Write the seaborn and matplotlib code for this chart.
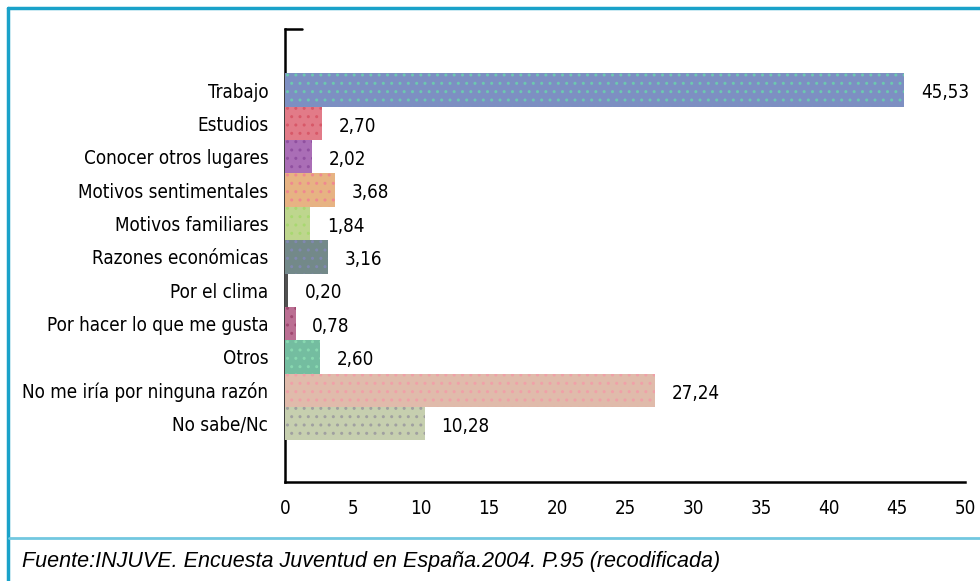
import matplotlib
matplotlib.use('Agg')
import matplotlib.pyplot as plt
from matplotlib.lines import Line2D
from matplotlib import font_manager
import seaborn as sns
import pandas as pd

# Data
categorias = ['Trabajo', 'Estudios', 'Conocer otros lugares', 'Motivos sentimentales',
              'Motivos familiares', 'Razones económicas', 'Por el clima',
              'Por hacer lo que me gusta', 'Otros', 'No me iría por ninguna razón',
              'No sabe/Nc']
porcentajes = [45.53, 2.70, 2.02, 3.68, 1.84, 3.16, 0.20, 0.78, 2.60, 27.24, 10.28]
colores = ['#7189cd', '#f36a7b', '#b262c2', '#f8b272', '#c2e282', '#6f8d8d',
           '#505050', '#c86292', '#68c9a2', '#e9b8a2', '#c9d5a9']
puntos = ['#6cc8b0', '#d85868', '#9050a0', '#f08890', '#a8d870', '#8088b0',
          '#505050', '#a04870', '#88d8b0', '#f0a0a8', '#a0a0a0']
ticks_x = [0, 5, 10, 15, 20, 25, 30, 35, 40, 45, 50]
fuente = 'Fuente:INJUVE. Encuesta Juventud en España.2004. P.95 (recodificada)'

df = pd.DataFrame({'Categoria': categorias, 'Porcentaje': porcentajes})

sns.set_style('white')
plt.rcParams['font.family'] = ['DejaVu Sans']
plt.rcParams['font.stretch'] = 'condensed'
plt.rcParams['text.color'] = 'black'

# print which font file gets picked, just to know
print(font_manager.findfont(font_manager.FontProperties(family='DejaVu Sans', stretch='condensed')))

fig = plt.figure(figsize=(9.8, 5.81), dpi=100)
ax = fig.add_axes([285 / 980, 99 / 581, 680 / 980, 453 / 581])

sns.barplot(data=df, y='Categoria', x='Porcentaje', hue='Categoria', palette=colores,
            legend=False, width=1.0, orient='h', ax=ax, zorder=3)

for patch, dot in zip(ax.patches, puntos):
    patch.set_hatch('..')
    patch.set_edgecolor(dot)
    patch.set_linewidth(0)

lbl = 13.5
ax.set_xlim(0, 50)
ax.set_ylim(11.75, -1.83)
ax.set_xticks(ticks_x)
ax.set_xticklabels([str(t) for t in ticks_x], fontsize=lbl)
ax.tick_params(axis='x', direction='in', length=7, width=1.8, pad=12, colors='black')
ax.tick_params(axis='y', length=0, pad=12, labelsize=lbl, colors='black')
ax.set_xlabel('')
ax.set_ylabel('')

for s in ['top', 'right']:
    ax.spines[s].set_visible(False)
for s in ['left', 'bottom']:
    ax.spines[s].set_color('black')
    ax.spines[s].set_linewidth(1.8)
    ax.spines[s].set_zorder(1)

# small bracket at top of the y axis
ax.plot([0, 0.025], [1, 1], transform=ax.transAxes, color='black', lw=1.8, clip_on=False)

for i, v in enumerate(porcentajes):
    ax.annotate(f'{v:.2f}'.replace('.', ','), xy=(v, i), xytext=(12, -2),
                textcoords='offset points', ha='left', va='center', fontsize=lbl)

# frame and footer
fig.add_artist(Line2D([8 / 980, 8 / 980], [0, 1 - 8 / 581], color='#1aa2c9', lw=2.5))
fig.add_artist(Line2D([8 / 980, 1], [1 - 8 / 581, 1 - 8 / 581], color='#1aa2c9', lw=2.5))
fig.add_artist(Line2D([9 / 980, 1], [1 - 538 / 581, 1 - 538 / 581], color='#72c8e0', lw=2))
fig.text(22 / 980, 1 - 561 / 581, fuente, fontsize=15.5, style='italic', va='center',
         ha='left', family=['Liberation Sans', 'DejaVu Sans'], stretch='normal')

fig.savefig('out.png', dpi=100)
